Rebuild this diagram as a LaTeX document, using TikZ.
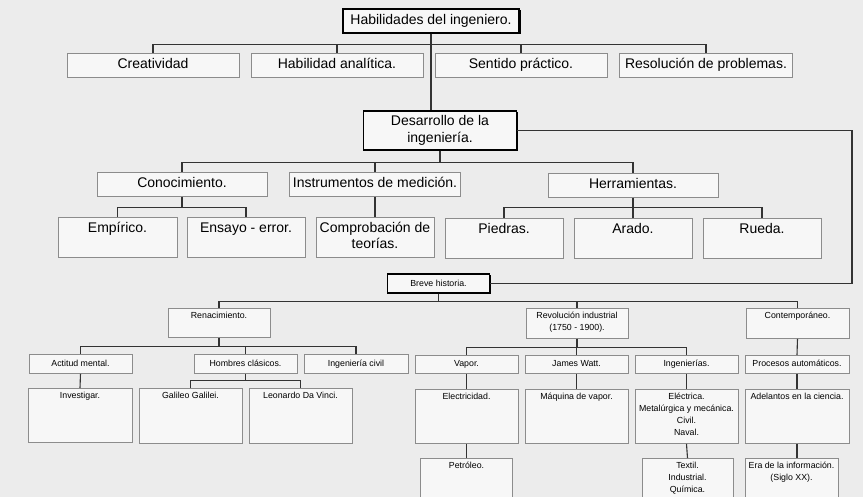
\documentclass[tikz,border=0pt]{standalone}
\usepackage{fontspec}
\setmainfont{Liberation Sans}
\usepackage{tikz}
\usetikzlibrary{shadows}
\definecolor{scangray}{RGB}{236,236,236}
\definecolor{boxgray}{RGB}{247,247,247}
\definecolor{edgegray}{RGB}{140,140,140}
\newcommand{\bigtxt}{\fontsize{14}{16.5}\selectfont}
\newcommand{\smalltxt}{\fontsize{8.8}{12}\selectfont}

\begin{document}
\begin{tikzpicture}[
    x=1pt, y=-1pt,
    box/.style={rectangle, draw=edgegray, line width=0.8pt, fill=boxgray, anchor=north, align=center, inner xsep=2pt},
    bigbox/.style={box, font=\bigtxt, text height=10pt, text depth=3pt, inner ysep=5pt, minimum height=24pt},
    smallbox/.style={box, font=\smalltxt, text height=6.5pt, text depth=2pt, inner ysep=4pt, minimum height=19pt},
    keybox/.style={rectangle, draw=black, line width=1.6pt, fill=boxgray, anchor=north, align=center, drop shadow={shadow xshift=1.6pt, shadow yshift=-1.6pt, opacity=1, fill=black}},
    boxdepth/.style={text depth=#1},
    boxheight/.style={text height=#1},
    link/.style={draw=black!80, line width=1.1pt},
]
    \useasboundingbox (0,0) rectangle (863,497);
    \clip (0,0) rectangle (863,497);
    \fill[scangray] (0,0) rectangle (863,497);

    \node[keybox, font=\bigtxt, minimum width=176pt, minimum height=24pt] (hab) at (431,8) {Habilidades del ingeniero.};

    \node[bigbox, minimum width=172pt] (crea) at (153,53) {Creatividad};
    \node[bigbox, minimum width=172pt] (anal) at (337,53) {Habilidad analítica.};
    \node[bigbox, minimum width=172pt] (sent) at (521,53) {Sentido práctico.};
    \node[bigbox, minimum width=173pt] (reso) at (706,53) {Resolución de problemas.};

    \node[keybox, font=\bigtxt, minimum width=153pt, minimum height=39pt] (des) at (440,110) {Desarrollo de la\\ingeniería.};

    \node[bigbox, minimum width=170pt] (cono) at (182,172) {Conocimiento.};
    \node[bigbox, minimum width=171pt] (inst) at (375,172) {Instrumentos de medición.};
    \node[bigbox, minimum width=170pt] (herr) at (633,173) {Herramientas.};

    \node[bigbox, boxdepth=20pt, minimum width=119pt] (emp) at (117.5,217) {Empírico.};
    \node[bigbox, boxdepth=20pt, minimum width=118pt] (ens) at (246,217) {Ensayo - error.};
    \node[bigbox, boxheight=26.5pt, boxdepth=3.5pt, minimum width=118pt] (comp) at (375,217) {Comprobación de\\teorías.};
    \node[bigbox, boxdepth=20pt, minimum width=118pt] (pied) at (504,218) {Piedras.};
    \node[bigbox, boxdepth=20pt, minimum width=118pt] (arad) at (633,218) {Arado.};
    \node[bigbox, boxdepth=20pt, minimum width=118pt] (rued) at (762,218) {Rueda.};

    \node[keybox, font=\smalltxt, minimum width=102pt, minimum height=19pt] (brev) at (438.5,273) {Breve historia.};
    \coordinate (loop) at (852,0);

    \node[smallbox, boxdepth=14.5pt, minimum width=102pt] (ren) at (219,308) {Renacimiento.};
    \node[smallbox, boxheight=18.5pt, boxdepth=3.5pt, minimum width=102pt] (rev) at (577,308) {Revolución industrial\\(1750 - 1900).};
    \node[smallbox, boxdepth=15.5pt, minimum width=103pt] (cont) at (797.5,308) {Contemporáneo.};

    \node[smallbox, minimum width=103pt] (act) at (80.5,354) {Actitud mental.};
    \node[smallbox, minimum width=103pt] (homb) at (245.5,354) {Hombres clásicos.};
    \node[smallbox, minimum width=104pt] (ingc) at (356,354) {Ingeniería civil};

    \node[smallbox, boxdepth=39.5pt, minimum width=104pt] (inv) at (80,388) {Investigar.};
    \node[smallbox, boxdepth=40.5pt, minimum width=103pt] (gal) at (190.5,388) {Galileo Galilei.};
    \node[smallbox, boxdepth=40.5pt, minimum width=103pt] (leo) at (300.5,388) {Leonardo Da Vinci.};

    \node[smallbox, minimum width=103pt, minimum height=18pt] (vap) at (466.5,355) {Vapor.};
    \node[smallbox, minimum width=103pt, minimum height=18pt] (jam) at (576.5,355) {James Watt.};
    \node[smallbox, minimum width=103pt, minimum height=18pt] (ingn) at (686.5,355) {Ingenierías.};
    \node[smallbox, minimum width=104pt, minimum height=18pt] (proc) at (797,355) {Procesos automáticos.};

    \node[smallbox, boxdepth=39.5pt, minimum width=103pt] (elec) at (466.5,389) {Electricidad.};
    \node[smallbox, boxdepth=39.5pt, minimum width=103pt] (maq) at (576.5,389) {Máquina de vapor.};
    \node[smallbox, boxheight=42.5pt, boxdepth=3.5pt, minimum width=103pt] (elct) at (686.5,389) {Eléctrica.\\Metalúrgica y mecánica.\\Civil.\\Naval.};
    \node[smallbox, boxdepth=39.5pt, minimum width=104pt] (adel) at (797,389) {Adelantos en la ciencia.};

    \node[smallbox, boxdepth=40pt, minimum width=92pt] (petr) at (466.5,458) {Petróleo.};
    \node[smallbox, boxheight=30.5pt, boxdepth=11.5pt, minimum width=91pt] (txt) at (687.5,458) {Textil.\\Industrial.\\Química.};
    \node[smallbox, boxheight=18.5pt, boxdepth=23.5pt, minimum width=93pt] (era) at (791.5,458) {Era de la información.\\(Siglo XX).};

    \foreach \c in {crea,anal,sent,reso} \draw[link] (hab.south) -- ++(0,11) -| (\c.north);
    \draw[link] (hab.south) -- (hab.south |- des.north);
    \foreach \c in {cono,inst,herr} \draw[link] (des.south) -- ++(0,12) -| (\c.north);
    \foreach \c in {emp,ens} \draw[link] (cono.south) -- ++(0,11) -| (\c.north);
    \draw[link] (inst.south) -- (comp.north);
    \foreach \c in {pied,arad,rued} \draw[link] (herr.south) -- ++(0,10) -| (\c.north);
    \draw[link] (des.east) -| (loop |- brev.east) -- (brev.east);

    \foreach \c in {ren,rev,cont} \draw[link] (brev.south) -- ++(0,8) -| (\c.north);
    \foreach \c in {act,homb,ingc} \draw[link] (ren.south) -- ++(0,9) -| (\c.north);
    \draw[link] (act.south) -- (inv.north);
    \foreach \c in {gal,leo} \draw[link] (homb.south) -- ++(0,7) -| (\c.north);
    \foreach \c in {vap,jam,ingn} \draw[link] (rev.south) -- ++(0,9) -| (\c.north);
    \draw[link] (vap.south) -- (elec.north);
    \draw[link] (elec.south) -- (petr.north);
    \draw[link] (jam.south) -- (maq.north);
    \draw[link] (ingn.south) -- (elct.north);
    \draw[link] (elct.south) -- (txt.north);
    \draw[link] (cont.south) -- (proc.north);
    \draw[link] (proc.south) -- (adel.north);
    \draw[link] (adel.south) -- (adel.south |- era.north);
\end{tikzpicture}
\end{document}
